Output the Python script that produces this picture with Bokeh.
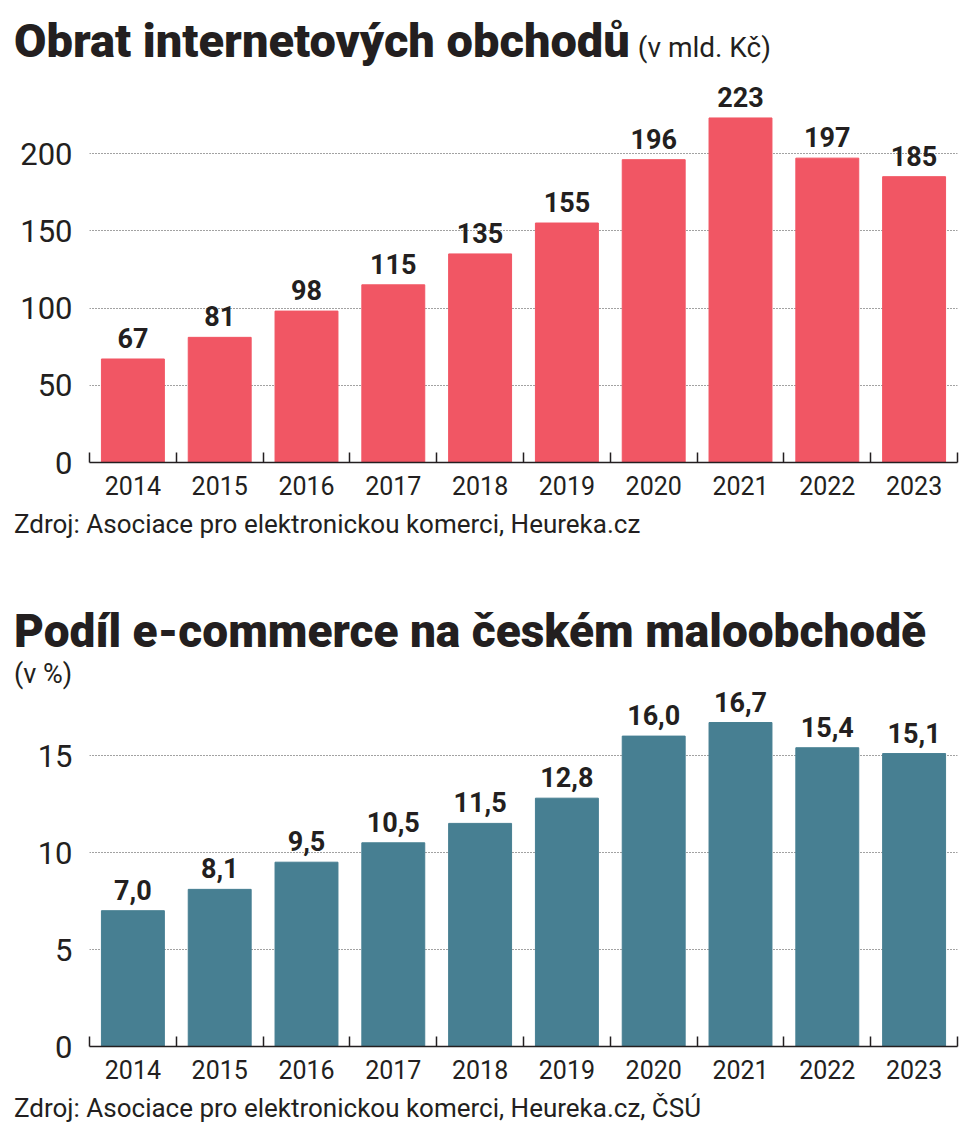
from bokeh.plotting import figure
from bokeh.models import Range1d, FixedTicker, Div
from bokeh.layouts import column
from bokeh.core.properties import value
from bokeh.embed import file_html
from bokeh.resources import INLINE

years = ["2014", "2015", "2016", "2017", "2018", "2019", "2020", "2021", "2022", "2023"]
turnover = [67, 81, 98, 115, 135, 155, 196, 223, 197, 185]          # mld. Kč
share = [7.0, 8.1, 9.5, 10.5, 11.5, 12.8, 16.0, 16.7, 15.4, 15.1]   # %
turnover_ticks = [0, 50, 100, 150, 200]
share_ticks = [0, 5, 10, 15]

title1 = "Obrat internetových obchodů"
unit1 = "(v mld. Kč)"
source1 = "Zdroj: Asociace pro elektronickou komerci, Heureka.cz"
title2 = "Podíl e-commerce na českém maloobchodě"
unit2 = "(v %)"
source2 = "Zdroj: Asociace pro elektronickou komerci, Heureka.cz, ČSÚ"

RED = "#f15664"
TEAL = "#477f92"
INK = "#231f20"
FONT = "Roboto"

W = 974
LEFT = 89
RIGHT = 957


def make_chart(vals, labels, ticks, height, top, bottom, px_per_unit, color):
    ymax = (bottom - top) / px_per_unit
    p = figure(width=W, height=height, output_backend="svg", toolbar_location=None,
               x_range=Range1d(-0.5, len(vals) - 0.5), y_range=Range1d(0, ymax),
               min_border_left=LEFT, min_border_right=W - RIGHT,
               min_border_top=top, min_border_bottom=height - bottom, margin=(0, 0, 0, 0))
    p.outline_line_color = None
    p.background_fill_color = "white"
    p.border_fill_alpha = 0
    xs = list(range(len(vals)))
    p.vbar(x=xs, top=vals, width=0.725, color=color)
    p.text(x=xs, y=vals, text=labels, text_align="center", text_baseline="alphabetic",
           y_offset=-21, text_font=value(FONT), text_font_style="bold",
           text_font_size="27px", text_color=INK)

    xa = p.xaxis[0]
    xa.ticker = FixedTicker(ticks=xs, minor_ticks=[i - 0.5 for i in range(len(vals) + 1)])
    xa.major_label_overrides = {i: y for i, y in enumerate(years)}
    xa.major_tick_in = 0
    xa.major_tick_out = 0
    xa.minor_tick_in = 10
    xa.minor_tick_out = 0
    xa.minor_tick_line_color = INK
    xa.minor_tick_line_width = 1.5
    xa.axis_line_color = INK
    xa.axis_line_width = 1.5
    xa.major_label_text_font = FONT
    xa.major_label_text_font_size = "25px"
    xa.major_label_text_color = INK
    xa.major_label_standoff = 13

    ya = p.yaxis[0]
    ya.ticker = FixedTicker(ticks=ticks)
    ya.major_tick_in = 0
    ya.major_tick_out = 0
    ya.minor_tick_line_color = None
    ya.axis_line_color = None
    ya.major_label_text_font = FONT
    ya.major_label_text_font_size = "31px"
    ya.major_label_text_color = INK
    ya.major_label_standoff = 17

    p.xgrid.grid_line_color = None
    p.ygrid.ticker = FixedTicker(ticks=[t for t in ticks if t > 0])
    p.ygrid.grid_line_color = "#444444"
    p.ygrid.grid_line_dash = "1 2"
    p.ygrid.grid_line_width = 1
    return p


def text_block(text, size, weight):
    return (f'<span style="font-family:{FONT};font-size:{size}px;font-weight:{weight};'
            f'line-height:1;white-space:nowrap;color:{INK}">{text}</span>')


def text_div(height, rows):
    inner = ""
    for (left, top, parts) in rows:
        spans = "".join(text_block(t, s, w) for (t, s, w) in parts)
        inner += (f'<div style="position:absolute;left:{left}px;top:{top}px;display:flex;'
                  f'align-items:baseline;gap:8px;line-height:1">{spans}</div>')
    html = f'<div style="position:relative;width:{W}px;height:{height}px">{inner}</div>'
    return Div(text=html, width=W, height=height, margin=(0, 0, 0, 0))


lab1 = [str(v) for v in turnover]
lab2 = [f"{v:.1f}".replace(".", ",") for v in share]

# page rows: div A 0-70, chart 1 70-505, div B 505-685, chart 2 685-1090, div C 1090-1138
divA = text_div(70, [(14, 17, [(title1, 47, 900), (unit1, 28, 400)])])
p1 = make_chart(turnover, lab1, turnover_ticks, 435, 6, 392, 309 / 200, RED)
divB = text_div(180, [
    (14, 6, [(source1, 26, 400)]),
    (14, 103, [(title2, 46, 900)]),
    (14, 156, [(unit2, 27, 400)]),
])
p2 = make_chart(share, lab2, share_ticks, 405, 0, 361, 291 / 15, TEAL)
divC = text_div(48, [(14, 5, [(source2, 26, 400)])])

layout = column(divA, p1, divB, p2, divC, spacing=0)
open("out.html", "w").write(file_html(layout, INLINE))
